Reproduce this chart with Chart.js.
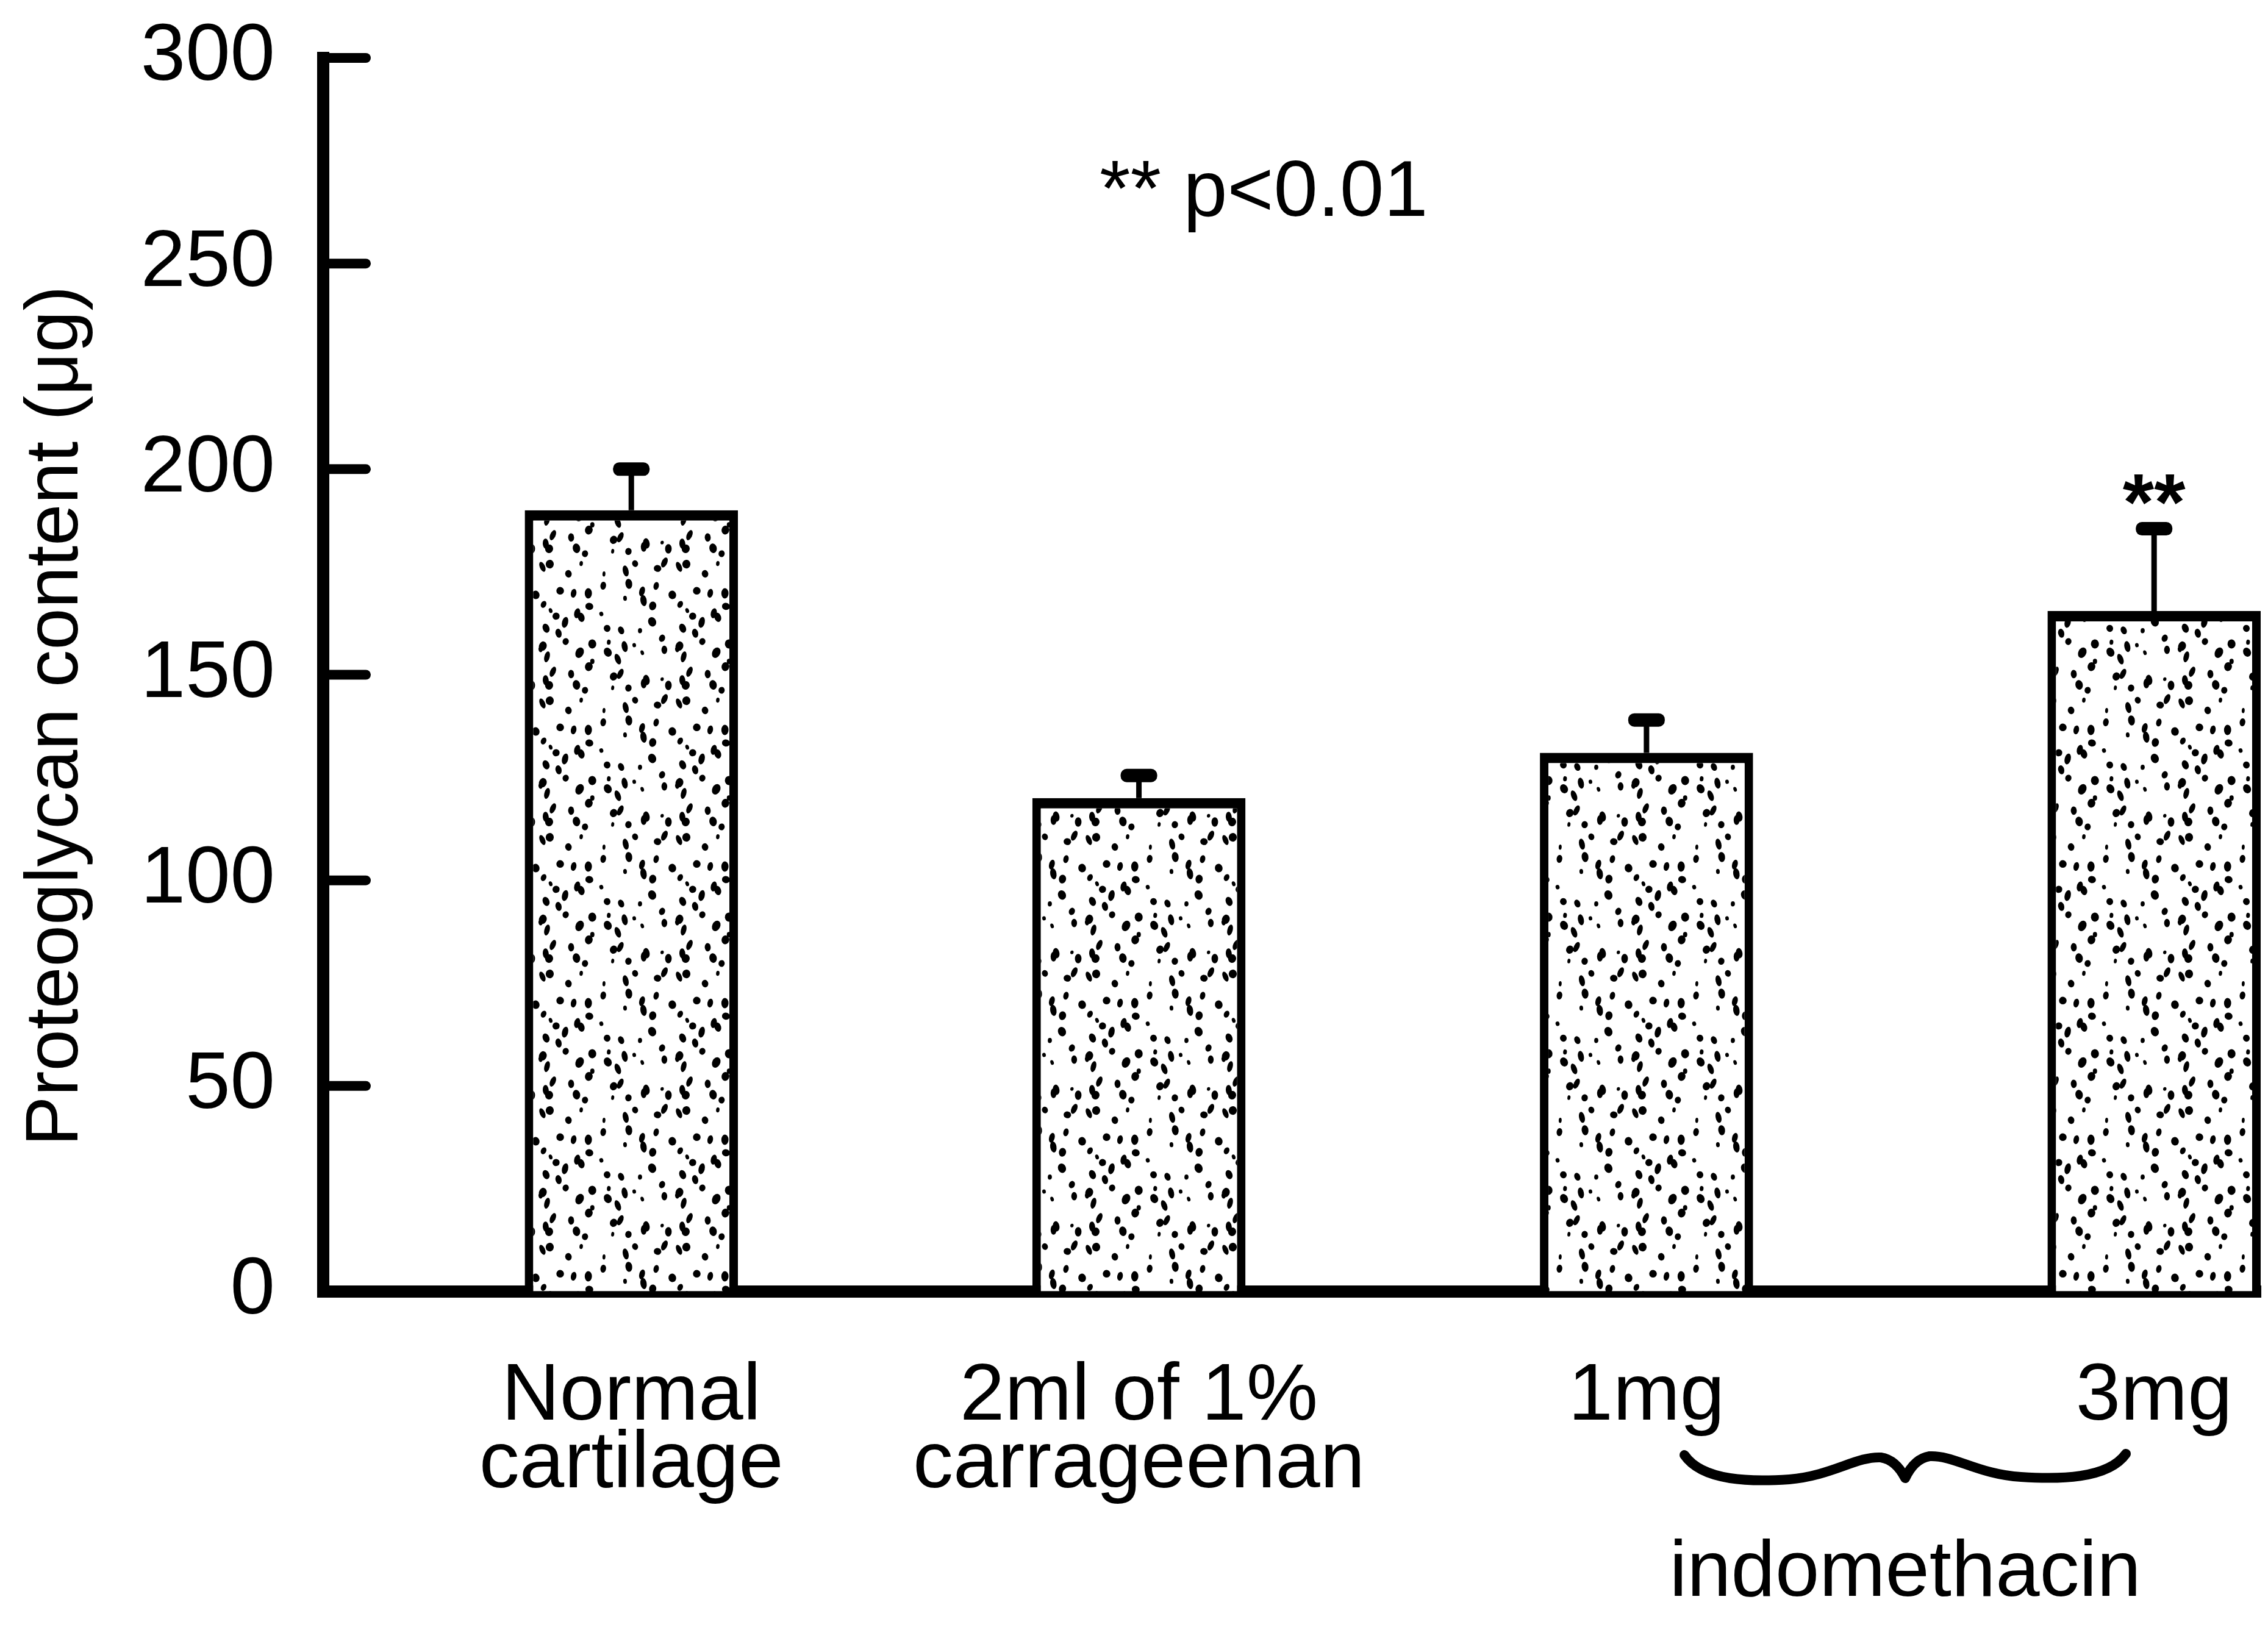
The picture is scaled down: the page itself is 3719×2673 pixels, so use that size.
<!DOCTYPE html>
<html>
<head>
<meta charset="utf-8">
<script src="https://cdn.jsdelivr.net/npm/chart.js@4.4.0/dist/chart.umd.min.js"></script>
<style>
  html, body { margin: 0; padding: 0; background: #fff; }
  #wrap { width: 3719px; height: 2673px; }
</style>
</head>
<body>
<div id="wrap"><canvas id="chart" width="3719" height="2673"></canvas></div>
<script>
// Groups along the x axis (multi-line labels)
const categories = [['Normal', 'cartilage'], ['2ml of 1%', 'carrageenan'], ['1mg'], ['3mg']];
// Mean proteoglycan content per group (µg)
const proteoglycan = [190, 120, 131, 165.5];
// Upper error (SE) per group (µg)
const errorUp = [10, 5.5, 8, 20];
// Significance marks above the error bars
const significance = ['', '', '', '**'];
// Y axis tick values
const yTicks = [0, 50, 100, 150, 200, 250, 300];
// Texts
const yTitle = 'Proteoglycan content (\u03bcg)';
const noteText = '** p<0.01';
const groupLabel = 'indomethacin';
const bracedGroups = [2, 3];

const FONT = '"Liberation Sans", Arial, sans-serif';

// Dotted (stippled) fill used inside the bars: irregular specks on a seamless tile
function makeStipple() {
  const size = 224;
  const t = document.createElement('canvas');
  t.width = t.height = size;
  const g = t.getContext('2d');
  g.fillStyle = '#fff';
  g.fillRect(0, 0, size, size);
  g.fillStyle = '#000';
  let s = 20231;
  const next = () => (s = (s * 16807) % 2147483647) / 2147483647;
  const speck = (cx, cy, rx, ry, rot) => {
    for (const dx of [-size, 0, size]) {
      for (const dy of [-size, 0, size]) {
        g.beginPath();
        g.ellipse(cx + dx, cy + dy, rx, ry, rot, 0, Math.PI * 2);
        g.fill();
      }
    }
  };
  // jittered grid so specks stay spread out but without visible rows
  const step = 28;
  for (let yy = 0; yy < size; yy += step) {
    for (let xx = 0; xx < size; xx += step) {
      const cx = xx + next() * step, cy = yy + next() * step;
      const big = next();
      const rx = big > 0.25 ? 4.2 + next() * 2.4 : 2.4 + next() * 1.2;
      const ry = big > 0.25 ? 5.5 + next() * 3.8 : 3 + next() * 1.5;
      speck(cx, cy, rx, ry, (next() - 0.5) * 0.9);
    }
  }
  return g.createPattern(t, 'repeat');
}

const annotations = {
  id: 'annotations',
  afterDatasetsDraw(chart) {
    const ctx = chart.ctx;
    const xs = chart.scales.x, ys = chart.scales.y;
    const area = chart.chartArea;
    ctx.save();
    ctx.fillStyle = '#000';
    ctx.strokeStyle = '#000';

    // inward tick marks on the y axis
    ctx.lineWidth = 16;
    ctx.lineCap = 'round';
    yTicks.forEach(v => {
      if (v === 0) return;
      const y = ys.getPixelForValue(v);
      ctx.beginPath();
      ctx.moveTo(area.left + 8, y);
      ctx.lineTo(area.left + 70, y);
      ctx.stroke();
    });
    // close the corner where the two axis lines meet
    ctx.fillRect(area.left - 10, area.bottom - 10, 20, 20);

    // upper error bars with heavy caps
    proteoglycan.forEach((v, i) => {
      const x = xs.getPixelForValue(i);
      const yTop = ys.getPixelForValue(v);
      const yErr = ys.getPixelForValue(v + errorUp[i]);
      ctx.lineCap = 'butt';
      ctx.lineWidth = 9;
      ctx.beginPath();
      ctx.moveTo(x, yTop);
      ctx.lineTo(x, yErr);
      ctx.stroke();
      const w = 60, h = 22, r = 10;
      ctx.beginPath();
      ctx.roundRect(x - w / 2, yErr - h / 2, w, h, r);
      ctx.fill();
      if (significance[i]) {
        ctx.font = 'bold 132px ' + FONT;
        ctx.textAlign = 'center';
        ctx.textBaseline = 'alphabetic';
        ctx.fillText(significance[i], x, yErr + 2);
      }
    });

    // significance note
    ctx.font = '130px ' + FONT;
    ctx.textAlign = 'left';
    ctx.textBaseline = 'middle';
    ctx.fillText(noteText, 1803, 318);

    // brace under the indomethacin doses
    const xa = xs.getPixelForValue(bracedGroups[0]);
    const xb = xs.getPixelForValue(bracedGroups[1]);
    const mid = (xa + xb) / 2 + 8;
    const half = 362;
    const top = 2386, low = 2426;
    ctx.lineWidth = 16;
    ctx.lineCap = 'round';
    ctx.lineJoin = 'round';
    ctx.beginPath();
    ctx.moveTo(mid - half, top);
    ctx.bezierCurveTo(mid - half + 30, low + 4, mid - 250, low + 4, mid - 190, low);
    ctx.bezierCurveTo(mid - 120, low - 6, mid - 80, top + 2, mid - 40, top + 4);
    ctx.quadraticCurveTo(mid - 15, top + 8, mid, low - 2);
    ctx.quadraticCurveTo(mid + 15, top + 6, mid + 40, top + 2);
    ctx.bezierCurveTo(mid + 80, top, mid + 120, low - 8, mid + 190, low - 4);
    ctx.bezierCurveTo(mid + 250, low, mid + half - 30, low, mid + half, top - 2);
    ctx.stroke();

    ctx.font = '130px ' + FONT;
    ctx.textAlign = 'center';
    ctx.textBaseline = 'alphabetic';
    ctx.fillText(groupLabel, mid, 2617);

    // rotated y axis title
    ctx.translate(93, 1174);
    ctx.rotate(-Math.PI / 2);
    ctx.font = '123px ' + FONT;
    ctx.textAlign = 'center';
    ctx.textBaseline = 'middle';
    ctx.fillText(yTitle, 0, 0);
    ctx.restore();
  }
};

const stipple = makeStipple();

new Chart(document.getElementById('chart'), {
  type: 'bar',
  data: {
    datasets: [{
      data: proteoglycan.map((v, i) => ({ x: i, y: v })),
      backgroundColor: stipple,
      borderColor: '#000',
      borderWidth: { top: 17, left: 14, right: 14, bottom: 0 },
      borderSkipped: 'start',
      barPercentage: 0.42,
      categoryPercentage: 1
    }]
  },
  options: {
    responsive: false,
    animation: false,
    devicePixelRatio: 1,
    layout: { padding: { top: 95, right: 12, bottom: 0, left: 0 } },
    plugins: { legend: { display: false }, tooltip: { enabled: false }, title: { display: false } },
    scales: {
      x: {
        type: 'linear',
        offset: false,
        min: -0.607,
        max: 3.21,
        afterBuildTicks(scale) { scale.ticks = categories.map((_, i) => ({ value: i })); },
        afterFit(scale) { scale.height = 555; },
        grid: { display: true, offset: false, drawOnChartArea: false, drawTicks: true, tickLength: 118, color: 'transparent', tickColor: 'transparent' },
        border: { display: true, color: '#000', width: 20 },
        ticks: {
          autoSkip: false,
          maxRotation: 0,
          color: '#000',
          padding: 0,
          font: { family: FONT, size: 132, lineHeight: 0.84 },
          callback: (v) => categories[v]
        }
      },
      y: {
        type: 'linear',
        min: 0,
        max: 300,
        afterBuildTicks(scale) { scale.ticks = yTicks.map(v => ({ value: v })); },
        afterFit(scale) { scale.width = 530; },
        grid: { display: true, drawOnChartArea: false, drawTicks: true, tickLength: 79, color: 'transparent', tickColor: 'transparent' },
        border: { display: true, color: '#000', width: 20 },
        ticks: {
          color: '#000',
          padding: 0,
          font: { family: FONT, size: 132 }
        }
      }
    }
  },
  plugins: [annotations]
});
</script>
</body>
</html>
